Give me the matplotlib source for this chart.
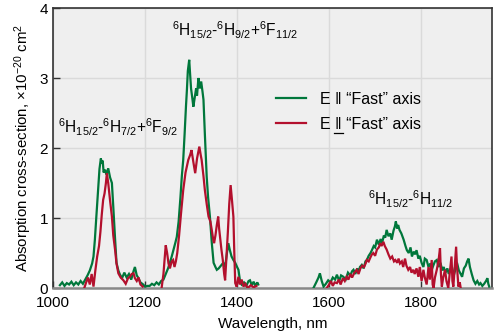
import numpy as np
import matplotlib
matplotlib.use("Agg")
import matplotlib.pyplot as plt
from matplotlib.lines import Line2D
from matplotlib.transforms import IdentityTransform

plt.rcParams['font.family'] = ['Liberation Sans', 'DejaVu Sans']
plt.rcParams['mathtext.fontset'] = 'custom'
plt.rcParams['mathtext.rm'] = 'Liberation Sans'
plt.rcParams['mathtext.it'] = 'Liberation Sans'
plt.rcParams['mathtext.bf'] = 'Liberation Sans'

# ---- data: E || "Fast" axis (green) ----
g1_wl = [1015, 1020, 1025, 1030, 1035, 1040, 1045, 1050, 1055, 1060, 1065, 1070, 1075, 1080, 1085, 1088,
         1091, 1094, 1098, 1101, 1104, 1106, 1108, 1110, 1113, 1116, 1120, 1124, 1128, 1131, 1135, 1138,
         1142, 1145, 1150, 1155, 1160, 1165, 1170, 1175, 1178, 1182, 1185, 1190, 1196, 1200, 1205, 1210,
         1215, 1220, 1225, 1230, 1235, 1240, 1245, 1250, 1254, 1258, 1262, 1266, 1269, 1273, 1277, 1280,
         1283, 1286, 1289, 1291, 1293, 1296, 1298, 1300, 1303, 1305, 1308, 1311, 1313, 1316, 1319, 1322,
         1325, 1327, 1330, 1334, 1337, 1341, 1345, 1349, 1353, 1356, 1360, 1365, 1370, 1374, 1378, 1381,
         1384, 1388, 1392, 1396, 1400, 1403, 1406, 1410, 1415, 1420, 1425, 1428, 1432, 1436, 1440, 1444, 1446]
g1_val = [0.04, 0.08, 0.03, 0.07, 0.05, 0.09, 0.04, 0.08, 0.05, 0.10, 0.06, 0.12, 0.18, 0.25, 0.35, 0.45,
          0.69, 1.00, 1.40, 1.70, 1.85, 1.78, 1.82, 1.65, 1.69, 1.62, 1.71, 1.58, 1.50, 1.16, 0.69, 0.36,
          0.25, 0.20, 0.14, 0.22, 0.15, 0.20, 0.12, 0.24, 0.30, 0.18, 0.15, 0.08, 0.05, 0.02, 0.03, 0.03,
          0.06, 0.04, 0.08, 0.05, 0.10, 0.12, 0.20, 0.28, 0.36, 0.45, 0.55, 0.65, 0.73, 0.95, 1.30, 1.60,
          1.83, 2.20, 2.60, 2.83, 3.10, 3.26, 3.05, 2.85, 2.70, 2.59, 2.72, 2.85, 2.75, 3.00, 2.85, 2.95,
          2.80, 2.69, 2.20, 1.59, 1.30, 1.02, 0.65, 0.36, 0.30, 0.26, 0.28, 0.32, 0.36, 0.30, 0.50, 0.64,
          0.55, 0.45, 0.40, 0.36, 0.30, 0.26, 0.12, 0.05, 0.08, 0.03, 0.10, 0.11, 0.04, 0.09, 0.03, 0.08, 0.05]

g2_wl = [1566, 1572, 1577, 1580, 1584, 1588, 1593, 1598, 1603, 1608, 1613, 1617, 1622, 1626, 1631, 1636,
         1641, 1646, 1650, 1653, 1657, 1661, 1664, 1667, 1671, 1675, 1679, 1682, 1686, 1690, 1693, 1697,
         1700, 1704, 1708, 1712, 1715, 1719, 1722, 1725, 1729, 1733, 1736, 1740, 1743, 1745, 1748, 1750,
         1753, 1757, 1762, 1766, 1769, 1773, 1777, 1780, 1784, 1787, 1790, 1794, 1797, 1801, 1805, 1808,
         1812, 1816, 1820, 1823, 1827, 1830, 1834, 1838, 1842, 1846, 1849, 1853, 1857, 1860, 1863, 1867,
         1871, 1875, 1878, 1882, 1886, 1889, 1893, 1897, 1900, 1903, 1906, 1910, 1914, 1918, 1922, 1926,
         1929, 1933, 1937, 1941, 1944, 1946, 1948]
g2_val = [0.00, 0.08, 0.15, 0.21, 0.10, 0.02, 0.06, 0.11, 0.08, 0.15, 0.12, 0.19, 0.10, 0.18, 0.16, 0.12,
          0.22, 0.18, 0.24, 0.26, 0.20, 0.28, 0.22, 0.30, 0.33, 0.28, 0.38, 0.40, 0.46, 0.50, 0.54, 0.60,
          0.58, 0.69, 0.62, 0.70, 0.64, 0.75, 0.72, 0.83, 0.74, 0.78, 0.69, 0.82, 0.88, 0.95, 0.85, 0.90,
          0.83, 0.78, 0.69, 0.60, 0.54, 0.50, 0.58, 0.45, 0.52, 0.48, 0.54, 0.42, 0.46, 0.36, 0.30, 0.42,
          0.40, 0.30, 0.35, 0.26, 0.33, 0.38, 0.40, 0.30, 0.36, 0.25, 0.30, 0.22, 0.28, 0.20, 0.26, 0.30,
          0.18, 0.28, 0.36, 0.25, 0.20, 0.16, 0.28, 0.32, 0.38, 0.42, 0.30, 0.20, 0.11, 0.06, 0.10, 0.05,
          0.07, 0.03, 0.06, 0.10, 0.14, 0.06, 0.02]

# ---- data: E ⊥ "Fast" axis (red) ----
r1_wl = [1068, 1072, 1076, 1080, 1084, 1088, 1092, 1096, 1100, 1103, 1106, 1109, 1112, 1115, 1117, 1120,
         1124, 1128, 1131, 1135, 1138, 1142, 1147, 1153, 1158, 1163, 1167, 1171, 1175, 1178, 1182, 1186,
         1190, 1195]
r1_val = [0.00, 0.08, 0.15, 0.05, 0.20, 0.02, 0.25, 0.45, 0.60, 0.80, 1.05, 1.26, 1.35, 1.50, 1.64, 1.50,
          1.25, 1.02, 0.75, 0.54, 0.35, 0.21, 0.15, 0.11, 0.06, 0.14, 0.16, 0.20, 0.21, 0.14, 0.10, 0.15,
          0.05, 0.02]

r2_wl = [1236, 1240, 1243, 1245, 1248, 1251, 1254, 1258, 1261, 1264, 1267, 1270, 1274, 1278, 1283, 1288,
         1294, 1298, 1301, 1305, 1309, 1313, 1318, 1321, 1323, 1327, 1330, 1334, 1338, 1342, 1345, 1348,
         1350, 1353, 1356, 1359, 1361, 1363, 1366, 1369, 1372, 1374, 1377, 1380, 1383, 1386, 1389, 1392,
         1394, 1396, 1399, 1403, 1406, 1410, 1414, 1418, 1423, 1430, 1436, 1442]
r2_val = [0.00, 0.20, 0.45, 0.61, 0.50, 0.35, 0.28, 0.38, 0.40, 0.30, 0.38, 0.50, 0.75, 1.05, 1.40, 1.65,
          1.83, 1.90, 1.97, 1.80, 1.64, 1.85, 2.02, 1.90, 1.83, 1.60, 1.40, 1.20, 1.02, 0.95, 0.83, 0.70,
          0.64, 0.75, 0.90, 1.02, 0.85, 0.73, 0.55, 0.40, 0.20, 0.11, 0.45, 0.80, 1.20, 1.47, 1.25, 1.02,
          0.50, 0.07, 0.02, 0.16, 0.05, 0.12, 0.02, 0.06, 0.00, 0.04, 0.01, 0.03]

r3_wl = [1595, 1600, 1604, 1608, 1612, 1617, 1621, 1625, 1630, 1634, 1638, 1642, 1646, 1650, 1655, 1660,
         1664, 1668, 1672, 1676, 1680, 1682, 1686, 1690, 1693, 1696, 1700, 1704, 1708, 1711, 1714, 1718,
         1721, 1725, 1729, 1733, 1737, 1741, 1744, 1748, 1751, 1754, 1758, 1761, 1765, 1768, 1772, 1776,
         1779, 1783, 1786, 1790, 1794, 1797, 1801, 1805, 1808, 1812, 1816, 1819, 1823, 1825, 1827, 1830,
         1834, 1838, 1841, 1843, 1845, 1848, 1852, 1855, 1859, 1862, 1866, 1868, 1870, 1873, 1876, 1878,
         1881, 1884, 1886]
r3_val = [0.00, 0.05, 0.10, 0.03, 0.08, 0.07, 0.12, 0.05, 0.14, 0.10, 0.16, 0.12, 0.20, 0.15, 0.22, 0.26,
          0.20, 0.28, 0.32, 0.30, 0.36, 0.40, 0.38, 0.44, 0.48, 0.50, 0.46, 0.55, 0.58, 0.64, 0.60, 0.66,
          0.60, 0.55, 0.48, 0.42, 0.45, 0.38, 0.40, 0.36, 0.42, 0.35, 0.38, 0.30, 0.42, 0.32, 0.26, 0.30,
          0.22, 0.26, 0.20, 0.28, 0.16, 0.30, 0.10, 0.26, 0.15, 0.05, 0.30, 0.12, 0.40, 0.05, 0.00, 0.15,
          0.26, 0.40, 0.57, 0.20, 0.02, 0.15, 0.26, 0.10, 0.00, 0.20, 0.45, 0.10, 0.02, 0.30, 0.59, 0.30,
          0.02, 0.08, 0.00]

green_segments = [(g1_wl, g1_val), (g2_wl, g2_val)]
red_segments = [(r1_wl, r1_val), (r2_wl, r2_val), (r3_wl, r3_val)]

x_ticks = [1000, 1200, 1400, 1600, 1800]
y_ticks = [0, 1, 2, 3, 4]

GREEN = '#00773b'
RED = '#b3102d'

fig = plt.figure(figsize=(4.94, 3.31), dpi=100)
ax = fig.add_axes([53/494, 43/331, 439/494, 280/331])
ax.set_facecolor('#efefef')

for i, (wl, v) in enumerate(green_segments):
    ax.plot(wl, v, color=GREEN, lw=1.6, solid_joinstyle='miter',
            label='E \u2016 \u201cFast\u201d axis' if i == 0 else None, zorder=3)
for i, (wl, v) in enumerate(red_segments):
    ax.plot(wl, v, color=RED, lw=1.6, solid_joinstyle='miter',
            label='E \u2016 \u201cFast\u201d axis' if i == 0 else None, zorder=4)

ax.set_xlim(1000, 1954)
ax.set_ylim(0, 4)
ax.set_xticks(x_ticks)
ax.set_yticks(y_ticks)
ax.grid(True, color='#dadada', lw=1.0)
ax.set_axisbelow(True)
ax.tick_params(direction='in', length=5, width=1, colors='#333333', labelsize=11, labelcolor='black')
ax.tick_params(axis='x', pad=6)

for s in ['left', 'top', 'right']:
    ax.spines[s].set_color('#333333')
    ax.spines[s].set_linewidth(1.2)
ax.spines['bottom'].set_color('#888888')
ax.spines['bottom'].set_linewidth(1.8)

ax.set_xlabel('Wavelength, nm', fontsize=11, labelpad=5)
ax.set_ylabel('Absorption cross-section, \u00d710$^{-20}$ cm$^{2}$', fontsize=10.8, labelpad=4)

ax.text(1011, 2.21, r'$^6$H$_{15/2}$-$^6$H$_{7/2}$+$^6$F$_{9/2}$', fontsize=11.2, va='baseline', ha='left')
ax.text(1259, 3.59, r'$^6$H$_{15/2}$-$^6$H$_{9/2}$+$^6$F$_{11/2}$', fontsize=11.2, va='baseline', ha='left')
ax.text(1685, 1.18, r'$^6$H$_{15/2}$-$^6$H$_{11/2}$', fontsize=11.2, va='baseline', ha='left')

leg = ax.legend(loc='upper left', bbox_to_anchor=(0.508, 0.70), frameon=False, fontsize=11.5,
                handlelength=1.9, handletextpad=0.85, labelspacing=0.6, borderpad=0, borderaxespad=0)

# underline under the double bar of the second entry (double up tack sign, no installed glyph)
fig.canvas.draw()
renderer = fig.canvas.get_renderer()
t2 = leg.get_texts()[1]
prop = t2.get_fontproperties()
bb = t2.get_window_extent(renderer)
w_pre, _, _ = renderer.get_text_width_height_descent('E ', prop, ismath=False)
w_bar, _, _ = renderer.get_text_width_height_descent('E \u2016', prop, ismath=False)
_, _, desc = renderer.get_text_width_height_descent(t2.get_text(), prop, ismath=False)
y_ul = bb.y0 + desc - 1.5
fig.add_artist(Line2D([bb.x0 + w_pre - 1.0, bb.x0 + w_bar + 1.0], [y_ul, y_ul],
                      color='black', lw=0.9, transform=IdentityTransform()))

fig.savefig('out.png', dpi=100)
